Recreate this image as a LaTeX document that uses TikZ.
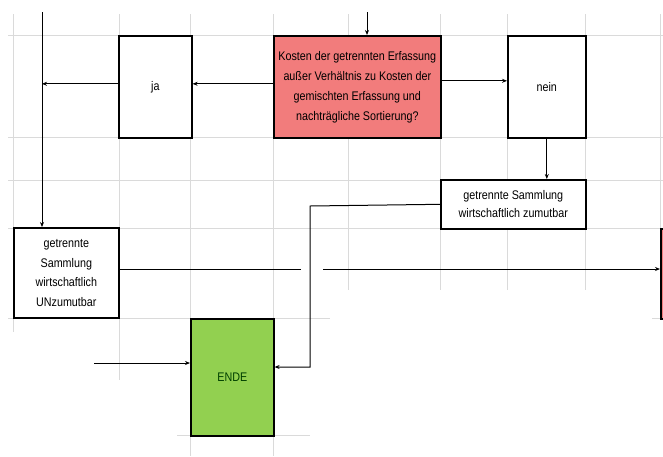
\documentclass[tikz,border=0pt]{standalone}
\usepackage{fontspec}
\setmainfont[FakeStretch=0.86]{Liberation Sans}
\usetikzlibrary{arrows.meta}

\definecolor{rosa}{HTML}{F27C7C}
\definecolor{gruen}{HTML}{92D050}
\definecolor{gitter}{HTML}{DADADA}

\tikzset{
  kasten/.style={draw=black, line width=1.6pt, inner sep=0pt, align=center, anchor=north west},
  verb/.style={line width=1pt, -{Stealth[length=5pt, width=4pt]}},
}

\begin{document}
\begin{tikzpicture}[x=1pt, y=-1pt, font=\fontsize{12.5}{20}\selectfont]
\useasboundingbox (0,0) rectangle (663,456);

% grid of the sheet
\begin{scope}[gitter, line width=0.8pt]
\foreach \gx in {13,119,190,273,348,440,507,585,660}
  \draw (\gx,14) -- (\gx,290);
\foreach \gy in {35,137,180,228}
  \draw (8,\gy) -- (663,\gy);
\draw (8,318) -- (330,318);
\draw (652,318) -- (663,318);
\draw (177,435) -- (310,435);
\draw (13,290) -- (13,332);
\draw (119,290) -- (119,380);
\draw (190,290) -- (190,456);
\draw (273,290) -- (273,456);
\end{scope}

% boxes
\node[kasten, fill=rosa, minimum width=167pt, minimum height=102pt] (frage) at (273,35)
  {Kosten der getrennten Erfassung\\au\ss er Verh\"altnis zu Kosten der\\gemischten Erfassung und\\nachtr\"agliche Sortierung?};
\node[kasten, fill=white, minimum width=73pt, minimum height=102pt] (ja) at (118,35) {ja};
\node[kasten, fill=white, minimum width=78pt, minimum height=102pt] (nein) at (507,35) {nein};
\node[kasten, fill=white, minimum width=145pt, minimum height=49pt,
  font=\fontsize{12.5}{18}\selectfont] (zumutbar) at (440,179)
  {getrennte Sammlung\\wirtschaftlich zumutbar};
\node[kasten, fill=white, minimum width=105pt, minimum height=90pt,
  font=\fontsize{12.5}{19.5}\selectfont] (unzumutbar) at (13,227)
  {getrennte\\Sammlung\\wirtschaftlich\\UNzumutbar};
\node[kasten, fill=gruen, text=green!25!black, minimum width=83pt, minimum height=117pt] (ende) at (190,318) {ENDE};
\node[kasten, fill=rosa, minimum width=30pt, minimum height=90pt] (rotrest) at (660,228) {};

% free ends
\coordinate (oben) at (367,12);
\coordinate (links) at (42,12);
\coordinate (knick) at (310,206);
\coordinate (knick2) at (310,367);
\coordinate (lueckea) at (301,269);
\coordinate (lueckeb) at (323,269);
\coordinate (zuende) at (94,363);

% arrows
\draw[verb] (oben) -- (oben |- frage.north);
\draw[verb] ([yshift=3pt]frage.west) -- ([yshift=3pt]ja.east);
\draw[verb] ([yshift=3pt]ja.west) -- ([yshift=3pt]links |- ja.west);
\draw[verb] (links) -- (links |- unzumutbar.north);
\draw[verb] ([yshift=6pt]frage.east) -- ([yshift=6pt]nein.west);
\draw[verb] (nein.south) -- (nein.south |- zumutbar.north);
\draw[verb] (zumutbar.west) -- (knick) -- (knick2) -- (knick2 -| ende.east);
\draw[line width=1pt] (unzumutbar.east |- lueckea) -- (lueckea);
\draw[verb] (lueckeb) -- (lueckeb -| rotrest.west);
\draw[verb] (zuende) -- (zuende -| ende.west);

\end{tikzpicture}
\end{document}
